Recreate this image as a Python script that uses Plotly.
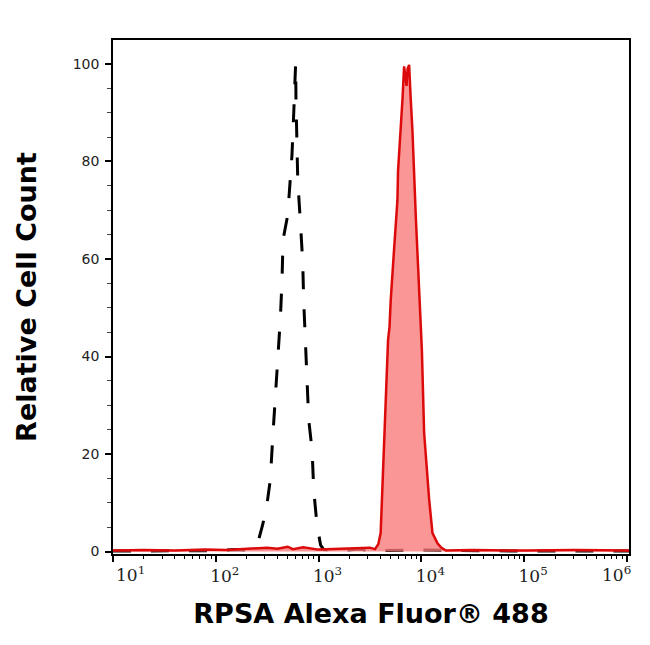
import plotly.graph_objects as go

# Isotype control (black dashed) - fluorescence intensity vs relative count
control_x = [10, 32, 100, 158, 200, 224, 251, 261, 285, 312, 339, 357, 379, 402,
             425, 441, 451, 501, 525, 551, 575, 598, 603, 612, 627, 665, 701, 716,
             745, 773, 802, 865, 897, 966, 1047, 1122, 1585, 2512, 3162, 10000,
             100000, 1050000]
control_y = [0.1, 0.1, 0.2, 0.4, 0.3, 0.8, 1.5, 2.4, 5.4, 9.1, 14.7, 22.9, 31.1, 39.3,
             47.9, 55.7, 63.9, 69.0, 74.2, 81.3, 90.6, 100.0, 92.6, 84.4, 76.2, 67.6, 59.4, 51.6,
             43.4, 35.2, 27.0, 20.8, 12.6, 5.4, 1.3, 0.4, 0.2, 0.5, 0.2, 0.3,
             0.1, 0.1]

# RPSA stained sample (red filled)
rpsa_x = [10, 20, 40, 79, 126, 200, 316, 398, 501, 562, 708, 1000, 1585, 2512,
          3162, 3540, 3811, 4018, 4266, 4498, 4742, 4898, 5035, 5420, 5675, 5848,
          5929, 6310, 6561, 6792, 7015, 7178, 7345, 7603, 7870, 8185, 8831, 9528,
          10116, 10641, 11402, 11912, 12823, 14355, 15596, 17338, 31623, 100000,
          316228, 1050000]
rpsa_y = [0.2, 0.3, 0.2, 0.4, 0.3, 0.5, 0.8, 0.6, 1.0, 0.5, 0.9, 0.4, 0.5, 0.6,
          0.8, 0.5, 1.5, 3.8, 17.4, 31.1, 43.4, 46.0, 51.6, 61.8, 68.0, 72.0,
          78.0, 86.4, 93.0, 99.5, 97.0, 95.5, 99.0, 99.8, 93.0, 86.4, 68.6, 51.6,
          41.3, 24.3, 15.0, 10.6, 3.8, 1.7, 0.8, 0.2, 0.3, 0.2,
          0.3, 0.2]

x_major = [10, 100, 1000, 10000, 100000, 1000000]
x_labels = ["10<sup>1</sup>", "10<sup>2</sup>", "10<sup>3</sup>",
            "10<sup>4</sup>", "10<sup>5</sup>", "10<sup>6</sup>"]
x_minor = [m * d for d in [10, 100, 1000, 10000, 100000] for m in range(2, 10)]
y_major = [0, 20, 40, 60, 80, 100]

fig = go.Figure()

fig.add_trace(go.Scatter(x=control_x, y=control_y, mode="lines",
                         line=dict(color="black", width=3, dash="18px,20px"),
                         showlegend=False))

fig.add_trace(go.Scatter(x=rpsa_x, y=rpsa_y, mode="lines", fill="tozeroy",
                         fillcolor="rgba(248,120,120,0.78)",
                         line=dict(color="#dc0a0a", width=2.5),
                         showlegend=False))

# the end labels sit inside the frame, so they are drawn as annotations
tick_font = dict(size=17, family="DejaVu Serif", color="#222")
inner_text = [""] + x_labels[1:5] + [""]
fig.add_annotation(x=1, y=0, xref="x", yref="paper", text=x_labels[0],
                   showarrow=False, yanchor="top", xanchor="center",
                   xshift=17, yshift=-7, font=tick_font)
fig.add_annotation(x=6, y=0, xref="x", yref="paper", text=x_labels[5],
                   showarrow=False, yanchor="top", xanchor="center",
                   xshift=-10, yshift=-7, font=tick_font)

# page body adds an 8px offset, so the figure is a bit smaller than the window
fig.update_layout(
    width=642, height=637,
    margin=dict(l=105, r=21, t=32, b=91),
    plot_bgcolor="white", paper_bgcolor="white",
    font=dict(family="DejaVu Sans", color="#222"),
)

fig.update_xaxes(
    type="log", range=[1, 6.02],
    tickmode="array", tickvals=x_major, ticktext=inner_text,
    tickfont=tick_font,
    ticklabelshift=9,
    ticks="outside", ticklen=6, tickwidth=1.5, tickcolor="black",
    minor=dict(tickmode="array", tickvals=x_minor, ticks="outside",
               ticklen=3, tickcolor="black", tickwidth=1),
    showline=True, linecolor="black", linewidth=1.5, mirror=True,
    showgrid=False, zeroline=False,
    title=dict(text="RPSA Alexa Fluor® 488",
               font=dict(size=27, family="DejaVu Sans", weight="bold", color="black"),
               standoff=19),
)

fig.update_yaxes(
    range=[-0.5, 104.9],
    tickmode="array", tickvals=y_major,
    tickfont=dict(size=14, family="DejaVu Sans", color="#222"),
    ticklabelstandoff=3,
    ticks="outside", ticklen=6, tickwidth=1.5, tickcolor="black",
    minor=dict(dtick=5, ticks="outside", ticklen=4, tickcolor="#444", tickwidth=1),
    showline=True, linecolor="black", linewidth=1.5, mirror=True,
    showgrid=False, zeroline=False,
    title=dict(text="Relative Cell Count",
               font=dict(size=27, family="DejaVu Sans", weight="bold", color="black"),
               standoff=28),
)

fig.write_html("out.html")
